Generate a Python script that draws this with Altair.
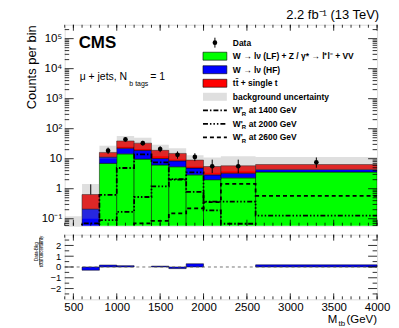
import altair as alt
import pandas as pd
import numpy as np

# ---------------- data ----------------
bin_lo = [400, 600, 800, 1000, 1200, 1400, 1600, 1800, 2000, 2200, 2600]
bin_hi = [600, 800, 1000, 1200, 1400, 1600, 1800, 2000, 2200, 2600, 4000]
w_lf_z_vv = [0, 0, 7.0, 14.5, 9.7, 6.2, 5.4, 2.9, 2.0, 2.3, 3.6]
w_hf = [0, 0.21, 4.3, 8.0, 9.3, 4.0, 3.1, 2.0, 0.9, 1.0, 0.8]
top_single_t = [0.03, 0.43, 4.9, 16.5, 14.0, 8.8, 6.5, 4.1, 2.6, 2.5, 2.0]
unc_lo = [0.01, 0.1, 10.0, 25.0, 21.0, 12.0, 9.5, 5.5, 3.4, 3.8, 4.2]
unc_hi = [0.12, 1.45, 27.0, 57.0, 50.0, 29.0, 22.4, 13.0, 11.0, 12.0, 11.5]
wr_1400 = [0, 0.07, 0.62, 4.9, 14.0, 7.6, 2.0, 0.78, 0.19, 0.068, 0]
wr_2000 = [0, 0, 0.09, 0.17, 0.53, 1.2, 2.1, 3.5, 0.37, 0.37, 0.128]
wr_2600 = [0, 0, 0, 0, 0.07, 0.085, 0.15, 0.22, 0.36, 1.45, 0.58]
data_x = [900, 1100, 1300, 1500, 1700, 1900, 2100, 2400, 3300]
data_y = [18.5, 44, 33, 21, 13.5, 11.5, 5.6, 5.6, 7.6]
data_lo = [14.3, 37.5, 27.5, 16.5, 10.0, 8.3, 3.3, 3.3, 5.0]
data_hi = [23.5, 51, 39.5, 26, 17.5, 15.2, 9.3, 9.3, 11.0]
empty_x = [700]
empty_lo = [0.64]
empty_hi = [1.4]
pull = [0, -0.3, 0.18, 0.12, 0.0, 0.08, -0.15, 0.3, 0.0, 0.0, 0.2]

x_ticks = [500, 1000, 1500, 2000, 2500, 3000, 3500, 4000]
x_minor = list(range(400, 4001, 100))
y_ticks = [0.1, 1, 10, 100, 1000, 10000, 100000]
y_tick_labels = ["10⁻¹", "1", "10", "10²", "10³", "10⁴", "10⁵"]
r_ticks = [-2, -1, 0, 1, 2]
r_minor = [-2.5, -1.5, -0.5, 0.5, 1.5, 2.5]

comp_names = ["wlf", "whf", "top"]
comp_colors = ["#00ff00", "#0000ff", "#ff0000"]
legend_labels = [
    "Data",
    "W → lν (LF) + Z / γ* → l⁺l⁻ + VV",
    "W → lν (HF)",
    "tt\u0304 + single t",
    "background uncertainty",
    "W'",
    "W'",
    "W'",
]
signal_masses = ["at 1400 GeV", "at 2000 GeV", "at 2600 GeV"]

# ---------------- layout ----------------
W, H, RH = 314, 202, 65
YMIN, YMAX = 0.0586, 2.9e5
FONT = "Liberation Sans"
UNC_COLOR, UNC_OPACITY = "#8c8c8c", 0.28

XS = alt.Scale(domain=[400, 4000], nice=False, zero=False)
YS = alt.Scale(type="log", domain=[YMIN, YMAX], nice=False)
RS = alt.Scale(domain=[-3, 3], nice=False, zero=False)

label_expr = " : ".join(
    f"datum.value == {v} ? '{t}'" for v, t in zip(y_ticks[:-1], y_tick_labels[:-1])
) + f" : '{y_tick_labels[-1]}'"

Y_AX = alt.Axis(values=y_ticks, labelExpr=label_expr, ticks=False, domain=False,
                grid=False, labelPadding=3, labelFontSize=11.5, labelFont=FONT,
                title="Counts per bin", titleFont=FONT, titleFontSize=13,
                titleFontWeight="normal", titleAngle=270, titleX=-33, titleY=0,
                titleAlign="right", titleBaseline="middle")

def xq(f):
    return alt.X(f, type="quantitative", scale=XS, axis=None)

def yq(f):
    return alt.Y(f, type="quantitative", scale=YS, axis=Y_AX)

# stacked backgrounds
rows = []
cum = [0.0] * len(bin_lo)
for name, vals in zip(comp_names, [w_lf_z_vv, w_hf, top_single_t]):
    for i, v in enumerate(vals):
        b = cum[i]
        t = b + v
        if v > 0:
            rows.append(dict(comp=name, lo=bin_lo[i], hi=bin_hi[i],
                             bottom=max(b, 1e-4), top=t))
        cum[i] = t
stack_df = pd.DataFrame(rows)

stack = alt.Chart(stack_df).mark_rect(stroke="black", strokeWidth=0.5, clip=True).encode(
    x=xq("lo"), x2="hi", y=yq("top"), y2="bottom",
    color=alt.Color("comp:N", scale=alt.Scale(domain=comp_names, range=comp_colors), legend=None),
)

unc_df = pd.DataFrame(dict(lo=bin_lo, hi=bin_hi, ulo=unc_lo, uhi=unc_hi))
unc = alt.Chart(unc_df).mark_rect(color=UNC_COLOR, opacity=UNC_OPACITY, clip=True).encode(
    x=xq("lo"), x2="hi", y=yq("uhi"), y2="ulo")

def step_df(vals):
    xs = bin_lo + [bin_hi[-1]]
    ys = [v if v > 0 else 1e-4 for v in vals] + [vals[-1] if vals[-1] > 0 else 1e-4]
    return pd.DataFrame(dict(x=xs, y=ys, o=range(len(xs))))

dash_1400 = [5, 2, 1.5, 2]
dash_2000 = [5, 2, 1.5, 2, 1.5, 2, 1.5, 2]
dash_2600 = [4, 3]
sig_layers = []
for vals, dash in zip([wr_1400, wr_2000, wr_2600], [dash_1400, dash_2000, dash_2600]):
    sig_layers.append(
        alt.Chart(step_df(vals)).mark_line(interpolate="step-after", clip=True, color="black",
                                           strokeWidth=1.8, strokeDash=dash).encode(
            x=xq("x"), y=yq("y"), order="o:Q"))

dat_df = pd.DataFrame(dict(x=data_x, y=data_y, lo=data_lo, hi=data_hi))
dat_err = alt.Chart(dat_df).mark_rule(color="black", strokeWidth=1).encode(
    x=xq("x"), y=yq("lo"), y2="hi")
dat_pts = alt.Chart(dat_df).mark_circle(color="black", size=22, opacity=1).encode(
    x=xq("x"), y=yq("y"))
empty_df = pd.DataFrame(dict(x=empty_x, lo=empty_lo, hi=empty_hi))
empty_err = alt.Chart(empty_df).mark_rule(color="black", strokeWidth=1).encode(
    x=xq("x"), y=yq("lo"), y2="hi")

# inward ticks, main panel
y_minor = [m * 10.0 ** k for k in range(-2, 6) for m in range(2, 10)]
y_minor = [v for v in y_minor if YMIN < v < YMAX]
ymaj_df = pd.DataFrame(dict(v=y_ticks))
ymin_df = pd.DataFrame(dict(v=y_minor))
xmaj_df = pd.DataFrame(dict(v=x_ticks))
xmin_df = pd.DataFrame(dict(v=x_minor))

def yt(df, x0, x1):
    return alt.Chart(df).mark_rule(color="black", strokeWidth=0.8).encode(
        y=yq("v"), x=alt.value(x0), x2=alt.value(x1))

def xt(df, y0, y1):
    return alt.Chart(df).mark_rule(color="black", strokeWidth=0.8).encode(
        x=xq("v"), y=alt.value(y0), y2=alt.value(y1))

main_ticks = [
    yt(ymaj_df, 0, 9), yt(ymin_df, 0, 4.5), yt(ymaj_df, W - 9, W), yt(ymin_df, W - 4.5, W),
    xt(xmaj_df, 0, 6), xt(xmin_df, 0, 3), xt(xmaj_df, H - 6, H), xt(xmin_df, H - 3, H),
]

one = pd.DataFrame({"a": [0]})

def txt(text, x, y, size, bold=False, align="left", baseline="alphabetic", angle=0):
    return alt.Chart(one).mark_text(text=text, align=align, baseline=baseline, font=FONT,
                                    fontSize=size, fontWeight="bold" if bold else "normal",
                                    angle=angle, color="black").encode(
        x=alt.value(x), y=alt.value(y))

texts = [
    txt("CMS", 14, 23, 17, bold=True),
    txt("μ + jets, N", 15, 56, 10.5),
    txt("b tags", 65, 62, 7),
    txt("= 1", 86, 56, 10.5),
    txt("2.2 fb⁻¹ (13 TeV)", W + 2, -5.5, 13, align="right"),
]

# legend
LY0, LDY = 18, 13.6
leg_y = [LY0 + i * LDY for i in range(8)]
BX0, BX1, TX = 139, 163, 169
leg = []
for i, lab in enumerate(legend_labels):
    leg.append(txt(lab, TX, leg_y[i], 8.5, bold=True, baseline="middle"))
leg.append(alt.Chart(one).mark_circle(color="black", size=22, opacity=1).encode(
    x=alt.value((BX0 + BX1) / 2), y=alt.value(leg_y[0])))
leg.append(alt.Chart(one).mark_rule(color="black").encode(
    x=alt.value((BX0 + BX1) / 2), y=alt.value(leg_y[0] - 5), y2=alt.value(leg_y[0] + 5)))
for i, c in enumerate(comp_colors):
    yy = leg_y[i + 1]
    leg.append(alt.Chart(one).mark_rect(color=c, stroke="black", strokeWidth=0.6).encode(
        x=alt.value(BX0), x2=alt.value(BX1), y=alt.value(yy - 4), y2=alt.value(yy + 4)))
leg.append(alt.Chart(one).mark_rect(color=UNC_COLOR, opacity=UNC_OPACITY).encode(
    x=alt.value(BX0), x2=alt.value(BX1), y=alt.value(leg_y[4] - 4), y2=alt.value(leg_y[4] + 4)))
for j, (dash, m) in enumerate(zip([dash_1400, dash_2000, dash_2600], signal_masses)):
    yy = leg_y[5 + j]
    leg.append(alt.Chart(one).mark_rule(color="black", strokeWidth=1.8, strokeDash=dash).encode(
        x=alt.value(BX0), x2=alt.value(BX1), y=alt.value(yy)))
    leg.append(txt("R", TX + 9, yy + 3.5, 6, bold=True, baseline="middle"))
    leg.append(txt(m, TX + 16, yy, 8.5, bold=True, baseline="middle"))

main = alt.layer(stack, unc, *sig_layers, empty_err, dat_err, dat_pts, *main_ticks,
                 *texts, *leg).properties(width=W, height=H)

# ---------------- ratio panel ----------------
R_X_AX = alt.Axis(values=x_ticks, ticks=False, domain=False, grid=False, labelPadding=2,
                  labelFontSize=11.5, labelFont=FONT, labelFlush=False, labelOverlap=False,
                  title=None, format="d")
R_Y_AX = alt.Axis(values=r_ticks, ticks=False, domain=False, grid=False, labelPadding=4,
                  labelFontSize=9.5, labelFont=FONT, title=None)

pull_df = pd.DataFrame(dict(lo=bin_lo, hi=bin_hi, p=pull, z=[0] * len(pull)))
pull_df = pull_df[pull_df.p != 0]
bars = alt.Chart(pull_df).mark_rect(color="#0000ff", stroke="black", strokeWidth=0.5).encode(
    x=alt.X("lo:Q", scale=XS, axis=R_X_AX), x2="hi",
    y=alt.Y("p:Q", scale=RS, axis=R_Y_AX), y2="z")
zero_line = alt.Chart(pd.DataFrame({"z": [0]})).mark_rule(
    color="#555555", strokeDash=[3, 3], strokeWidth=0.8).encode(
    y=alt.Y("z:Q", scale=RS, axis=R_Y_AX), x=alt.value(0), x2=alt.value(W))

rmaj_df = pd.DataFrame(dict(v=r_ticks))
rmin_df = pd.DataFrame(dict(v=r_minor))

def ryt(df, x0, x1):
    return alt.Chart(df).mark_rule(color="black", strokeWidth=0.8).encode(
        y=alt.Y("v:Q", scale=RS, axis=R_Y_AX), x=alt.value(x0), x2=alt.value(x1))

def rxt(df, y0, y1):
    return alt.Chart(df).mark_rule(color="black", strokeWidth=0.8).encode(
        x=alt.X("v:Q", scale=XS, axis=R_X_AX), y=alt.value(y0), y2=alt.value(y1))

r_ticks_layers = [
    ryt(rmaj_df, 0, 9), ryt(rmin_df, 0, 4.5), ryt(rmaj_df, W - 9, W), ryt(rmin_df, W - 4.5, W),
    rxt(xmaj_df, 0, 6), rxt(xmin_df, 0, 3), rxt(xmaj_df, RH - 6, RH), rxt(xmin_df, RH - 3, RH),
]

r_texts = [
    txt("Data-Bkg", -28, 17, 4.5, align="center", baseline="middle", angle=270),
    txt("total uncertainty", -22.5, 17, 4.5, align="center", baseline="middle", angle=270),
    alt.Chart(one).mark_rule(color="black", strokeWidth=0.6).encode(
        x=alt.value(-25.2), y=alt.value(3), y2=alt.value(31)),
    txt("(GeV)", W, 89, 11.5, align="right"),
    txt("tb", W - 32, 92, 8, align="right"),
    txt("M", W - 40, 89, 11.5, align="right"),
]

ratio = alt.layer(bars, zero_line, *r_ticks_layers, *r_texts).properties(width=W, height=RH)

chart = alt.vconcat(main, ratio, spacing=7).properties(
    padding={"left": 17, "top": 0, "right": 0, "bottom": 2}
).configure_view(stroke="black", strokeWidth=1).configure(font=FONT, background="white")

chart.save("out.html", embed_options={"renderer": "svg", "actions": False})
